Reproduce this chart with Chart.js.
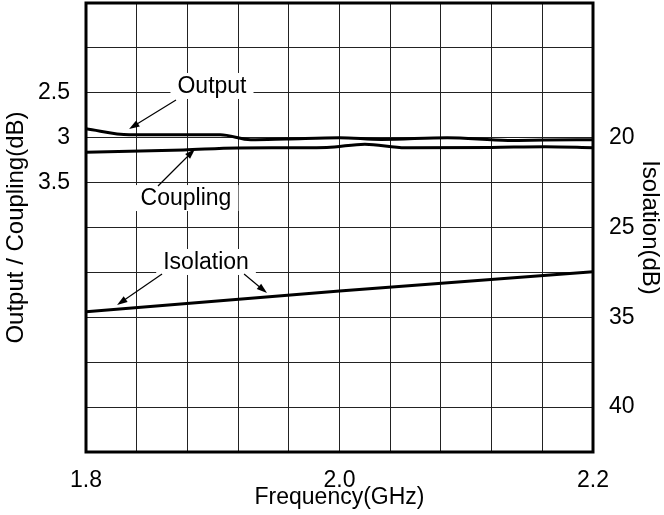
<!DOCTYPE html>
<html>
<head>
<meta charset="utf-8">
<script src="https://cdn.jsdelivr.net/npm/chart.js@4"></script>
<style>
  body { margin: 0; background: #fff; }
</style>
</head>
<body>
<canvas id="chart" width="664" height="515"></canvas>
<script>
// values
const freq_out = [1.800, 1.834, 1.870, 1.906, 1.930, 1.958, 2.000, 2.033, 2.085, 2.133, 2.162, 2.200];
const output_db = [2.900, 2.967, 2.967, 2.967, 3.022, 3.014, 3.000, 3.020, 3.000, 3.030, 3.026, 3.022];

const freq_cpl = [1.800, 1.877, 1.919, 1.990, 2.020, 2.052, 2.120, 2.162, 2.200];
const coupling_db = [3.163, 3.137, 3.114, 3.108, 3.072, 3.112, 3.108, 3.100, 3.111];

const freq_iso = [1.8, 2.0, 2.2];
const isolation_db = [34.69, 33.54, 32.46];

// tick labels shown on the picture
const x_labels = [1.8, 2.0, 2.2];
const left_labels = [2.5, 3, 3.5];
const right_tick_vals = [25, 30, 35, 40];
const right_tick_text = ['20', '25', '35', '40'];

const FONT = '"Liberation Sans", Arial, Helvetica, sans-serif';

function pts(xs, ys) {
    return xs.map((v, i) => ({ x: v, y: ys[i] }));
}

function noPad(s) {
    s.paddingTop = 0;
    s.paddingBottom = 0;
    s.paddingLeft = 0;
    s.paddingRight = 0;
}

// callouts and the plot frame
const callouts = {
    id: 'callouts',
    afterDatasetsDraw(chart) {
        const { ctx, scales: { x, y } } = chart;
        const px = f => x.getPixelForValue(f);
        const py = v => y.getPixelForValue(v);

        const texts = [
            { text: 'Output', f: 1.8994, v: 2.424 },
            { text: 'Coupling', f: 1.8789, v: 3.672 },
            { text: 'Isolation', f: 1.8947, v: 4.384 }
        ];
        const arrows = [
            [1.871, 2.580, 1.834, 2.903],
            [1.8568, 3.538, 1.886, 3.126],
            [1.860, 4.518, 1.8245, 4.863],
            [1.9247, 4.518, 1.9428, 4.730]
        ];

        ctx.save();
        ctx.font = '23px ' + FONT;
        ctx.textAlign = 'center';
        ctx.textBaseline = 'middle';
        for (const t of texts) {
            const w = ctx.measureText(t.text).width + 14;
            ctx.fillStyle = '#fff';
            ctx.fillRect(px(t.f) - w / 2, py(t.v) - 13, w, 26);
            ctx.fillStyle = '#000';
            ctx.fillText(t.text, px(t.f), py(t.v) + 1);
        }

        ctx.strokeStyle = '#000';
        ctx.fillStyle = '#000';
        ctx.lineWidth = 1.2;
        for (const a of arrows) {
            const x1 = px(a[0]), y1 = py(a[1]), x2 = px(a[2]), y2 = py(a[3]);
            const ang = Math.atan2(y2 - y1, x2 - x1);
            const len = 11, half = 0.32;
            ctx.beginPath();
            ctx.moveTo(x1, y1);
            ctx.lineTo(x2 - Math.cos(ang) * len * 0.8, y2 - Math.sin(ang) * len * 0.8);
            ctx.stroke();
            ctx.beginPath();
            ctx.moveTo(x2, y2);
            ctx.lineTo(x2 - len * Math.cos(ang - half), y2 - len * Math.sin(ang - half));
            ctx.lineTo(x2 - len * Math.cos(ang + half), y2 - len * Math.sin(ang + half));
            ctx.closePath();
            ctx.fill();
        }

        const ar = chart.chartArea;
        ctx.lineWidth = 3;
        ctx.strokeRect(ar.left, ar.top, ar.right - ar.left, ar.bottom - ar.top);
        ctx.restore();
    }
};

new Chart(document.getElementById('chart'), {
    type: 'line',
    data: {
        datasets: [
            {
                label: 'Output',
                data: pts(freq_out, output_db),
                yAxisID: 'y',
                borderColor: '#000',
                borderWidth: 3,
                pointRadius: 0,
                cubicInterpolationMode: 'monotone'
            },
            {
                label: 'Coupling',
                data: pts(freq_cpl, coupling_db),
                yAxisID: 'y',
                borderColor: '#000',
                borderWidth: 3,
                pointRadius: 0,
                cubicInterpolationMode: 'monotone'
            },
            {
                label: 'Isolation',
                data: pts(freq_iso, isolation_db),
                yAxisID: 'y2',
                borderColor: '#000',
                borderWidth: 3,
                pointRadius: 0
            }
        ]
    },
    options: {
        responsive: false,
        animation: false,
        layout: { padding: { top: 3, left: 0, right: 0, bottom: 0 } },
        plugins: {
            legend: { display: false },
            tooltip: { enabled: false }
        },
        scales: {
            x: {
                type: 'linear',
                min: 1.8,
                max: 2.2,
                border: { display: false },
                grid: { color: '#222', lineWidth: 1, drawTicks: false },
                ticks: {
                    stepSize: 0.04,
                    autoSkip: false,
                    maxRotation: 0,
                    padding: 15,
                    color: '#000',
                    font: { family: FONT, size: 23 },
                    callback: v => x_labels.some(l => Math.abs(l - v) < 1e-6) ? v.toFixed(1) : ''
                },
                title: {
                    display: true,
                    text: 'Frequency(GHz)',
                    color: '#000',
                    font: { family: FONT, size: 23 },
                    padding: { top: 0, bottom: 4 }
                },
                afterFit: s => { s.height = 63; noPad(s); }
            },
            y: {
                position: 'left',
                reverse: true,
                min: 1.5,
                max: 6.5,
                border: { display: false },
                grid: { color: '#222', lineWidth: 1, drawTicks: false },
                ticks: {
                    stepSize: 0.5,
                    autoSkip: false,
                    padding: 16,
                    color: '#000',
                    font: { family: FONT, size: 23 },
                    callback: v => left_labels.some(l => Math.abs(l - v) < 1e-6) ? String(v) : ''
                },
                title: {
                    display: true,
                    text: 'Output / Coupling(dB)',
                    color: '#000',
                    font: { family: FONT, size: 24 },
                    padding: { top: 2, bottom: 0 }
                },
                afterFit: s => { s.width = 86; noPad(s); }
            },
            y2: {
                position: 'right',
                reverse: true,
                min: 17.5,
                max: 42.5,
                border: { display: false },
                grid: { display: false, drawTicks: false },
                afterBuildTicks: s => { s.ticks = right_tick_vals.map(v => ({ value: v })); },
                ticks: {
                    autoSkip: false,
                    padding: 16,
                    color: '#000',
                    font: { family: FONT, size: 23 },
                    callback: v => {
                        const i = right_tick_vals.indexOf(v);
                        return i >= 0 ? right_tick_text[i] : '';
                    }
                },
                title: {
                    display: true,
                    text: 'Isolation(dB)',
                    color: '#000',
                    font: { family: FONT, size: 24 },
                    padding: { top: 0, bottom: 0 }
                },
                afterFit: s => { s.width = 71; noPad(s); }
            }
        }
    },
    plugins: [callouts]
});
</script>
</body>
</html>
